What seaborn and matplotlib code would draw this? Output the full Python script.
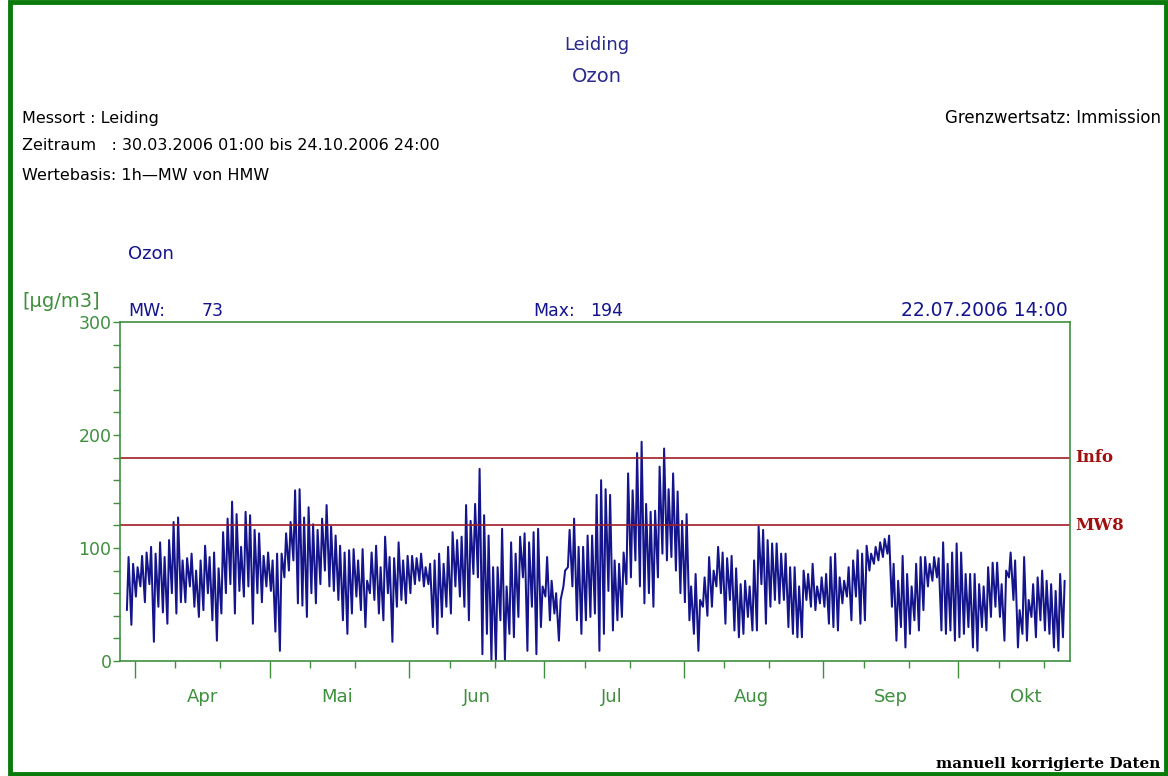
import numpy as np
import pandas as pd
import matplotlib
matplotlib.use('Agg')
import matplotlib.pyplot as plt
import matplotlib.dates as mdates
import matplotlib.transforms as mtransforms
from matplotlib.patches import Rectangle
from matplotlib.ticker import MultipleLocator, NullFormatter
import seaborn as sns

# Ozon Leiding, Tageshoechst- und Tagestiefstwerte, 30.03. - 24.10.2006
first_day = '2006-03-30'
daily_max = [
    92, 86, 83, 93, 96, 101, 95, 105, 92, 107, 123, 127, 89, 91, 95, 80, 89, 102, 92, 96,
    82, 114, 126, 141, 130, 101, 132, 129, 116, 113, 93, 96, 89, 95, 95, 113, 123, 151, 152, 127,
    136, 121, 116, 126, 138, 119, 111, 102, 96, 98, 99, 89, 99, 71, 96, 102, 83, 110, 92, 91,
    105, 89, 93, 93, 91, 95, 83, 86, 89, 95, 86, 101, 114, 107, 110, 138, 124, 139, 170, 129,
    111, 83, 83, 117, 66, 105, 95, 110, 113, 105, 114, 117, 66, 92, 71, 60, 54, 80, 116, 126,
    101, 101, 111, 111, 147, 160, 152, 147, 89, 86, 96, 166, 151, 184, 194, 139, 132, 133, 172, 188,
    152, 166, 150, 124, 130, 66, 77, 54, 74, 92, 80, 101, 96, 91, 93, 82, 68, 71, 66, 89,
    119, 116, 107, 104, 104, 95, 95, 83, 83, 66, 80, 77, 86, 66, 74, 77, 92, 95, 74, 71,
    83, 89, 98, 95, 102, 95, 101, 105, 108, 111, 86, 71, 93, 77, 66, 86, 92, 92, 86, 92,
    91, 105, 86, 96, 104, 96, 77, 77, 77, 68, 66, 83, 87, 87, 68, 80, 96, 89, 45, 92,
    54, 68, 74, 80, 71, 68, 62, 77, 71,
]
daily_min = [
    45, 32, 57, 66, 52, 68, 17, 48, 43, 33, 60, 42, 52, 52, 66, 48, 39, 45, 60, 36,
    18, 42, 60, 68, 42, 62, 57, 66, 33, 60, 52, 66, 62, 26, 9, 74, 80, 89, 51, 49,
    39, 60, 51, 68, 80, 66, 62, 54, 36, 24, 42, 57, 45, 30, 60, 54, 42, 36, 60, 17,
    48, 54, 51, 60, 68, 71, 66, 68, 30, 24, 39, 48, 42, 66, 57, 48, 36, 77, 74, 6,
    24, 1, 1, 36, 1, 24, 21, 39, 74, 9, 48, 6, 30, 57, 36, 42, 18, 66, 83, 66,
    36, 24, 36, 39, 42, 9, 24, 62, 27, 36, 39, 68, 74, 89, 66, 51, 60, 48, 74, 95,
    89, 92, 80, 60, 52, 36, 24, 9, 48, 40, 48, 66, 60, 33, 54, 27, 21, 24, 39, 27,
    27, 68, 33, 48, 54, 51, 54, 30, 24, 21, 21, 54, 48, 45, 51, 48, 33, 30, 27, 51,
    57, 36, 57, 33, 36, 80, 86, 89, 92, 95, 48, 18, 30, 12, 24, 36, 27, 45, 66, 71,
    74, 27, 24, 27, 18, 21, 24, 30, 12, 9, 30, 27, 39, 48, 39, 18, 74, 54, 12, 24,
    18, 39, 21, 36, 27, 24, 12, 9, 21,
]
info_level = 180
mw8_level = 120
month_names = ['Apr', 'Mai', 'Jun', 'Jul', 'Aug', 'Sep', 'Okt']
mw_value = 73
max_value = 194
max_time = '22.07.2006 14:00'

green = '#3f8f3f'
navy = '#14148c'
darkred = '#a01e28'

sns.set_style('white')
plt.rcParams['font.family'] = ['DejaVu Sans']

days = pd.date_range(first_day, periods=len(daily_max), freq='D')
df = pd.concat([
    pd.DataFrame({'time': days + pd.Timedelta(hours=5), 'ozon': daily_min}),
    pd.DataFrame({'time': days + pd.Timedelta(hours=14), 'ozon': daily_max}),
]).sort_values('time').reset_index(drop=True)

fig = plt.figure(figsize=(11.68, 7.76), dpi=100)
ax = fig.add_axes([0.1027, 0.1482, 0.8134, 0.4369])

sns.lineplot(data=df, x='time', y='ozon', ax=ax, color=navy, linewidth=1.45, estimator=None)

# Schwellenwerte
ax.axhline(info_level, color=darkred, lw=1.2)
ax.axhline(mw8_level, color=darkred, lw=1.2)
trans = mtransforms.blended_transform_factory(ax.transAxes, ax.transData)
ax.text(1.006, info_level, 'Info', transform=trans, va='center', ha='left',
        family='DejaVu Serif', fontweight='bold', fontsize=12, color='#a01010')
ax.text(1.006, mw8_level, 'MW8', transform=trans, va='center', ha='left',
        family='DejaVu Serif', fontweight='bold', fontsize=12, color='#a01010')

ax.set_xlim(pd.Timestamp('2006-03-28 16:00'), pd.Timestamp('2006-10-25 18:40'))
ax.set_ylim(0, 300)
ax.set_xlabel('')
ax.set_ylabel('')

for sp in ax.spines.values():
    sp.set_color(green)
    sp.set_linewidth(1.2)

ax.set_yticks([0, 100, 200, 300])
ax.yaxis.set_minor_locator(MultipleLocator(20))
ax.tick_params(axis='y', which='both', direction='out', left=True, length=5, width=1,
               color=green, labelcolor=green, labelsize=12.5, pad=1)

ax.xaxis.set_major_locator(mdates.MonthLocator())
ax.xaxis.set_minor_locator(mdates.DayLocator(bymonthday=[10, 20]))
ax.xaxis.set_major_formatter(NullFormatter())
ax.xaxis.set_minor_formatter(NullFormatter())
ax.tick_params(axis='x', which='major', direction='out', bottom=True, length=12, width=1, color=green)
ax.tick_params(axis='x', which='minor', direction='out', bottom=True, length=5, width=1, color=green)

for i, name in enumerate(month_names):
    xm = mdates.date2num(pd.Timestamp(2006, 4 + i, 16))
    ax.text(xm, -0.106, name, transform=ax.get_xaxis_transform(), ha='center', va='center',
            color=green, fontsize=13)

# Kopfzeilen
def fx(px):
    return px / 1168


def fy(py):
    return 1 - py / 776


fig.text(fx(597), fy(45), 'Leiding', ha='center', va='center', color='#2a2a8a', fontsize=13)
fig.text(fx(597), fy(76), 'Ozon', ha='center', va='center', color='#2a2a8a', fontsize=14)
fig.text(fx(22), fy(118), 'Messort : Leiding', ha='left', va='center', color='black', fontsize=11.5)
fig.text(fx(22), fy(146), 'Zeitraum   : 30.03.2006 01:00 bis 24.10.2006 24:00', ha='left',
         va='center', color='black', fontsize=11.5)
fig.text(fx(22), fy(175), 'Wertebasis: 1h\u2014MW von HMW', ha='left', va='center',
         color='black', fontsize=11.5)
fig.text(fx(1161), fy(118), 'Grenzwertsatz: Immission', ha='right', va='center',
         color='black', fontsize=12)
fig.text(fx(128), fy(254), 'Ozon', ha='left', va='center', color=navy, fontsize=13)
fig.text(fx(22), fy(302), '[\u00b5g/m3]', ha='left', va='center', color=green, fontsize=14)
fig.text(fx(128), fy(311), 'MW:', ha='left', va='center', color=navy, fontsize=12.5)
fig.text(fx(202), fy(311), f'{mw_value}', ha='left', va='center', color=navy, fontsize=12.5)
fig.text(fx(533), fy(311), 'Max:', ha='left', va='center', color=navy, fontsize=12.5)
fig.text(fx(590), fy(311), f'{max_value}', ha='left', va='center', color=navy, fontsize=12.5)
fig.text(fx(1068), fy(311), max_time, ha='right', va='center', color=navy, fontsize=13.5)
fig.text(fx(1160), fy(764), 'manuell korrigierte Daten', ha='right', va='center',
         family='DejaVu Serif', fontweight='bold', color='black', fontsize=11)

# gruener Rahmen
fig.patches.append(Rectangle((fx(10), 0.003), fx(1156), 0.994, transform=fig.transFigure,
                             fill=False, edgecolor='#0a7a0a', linewidth=3.5))

fig.savefig('out.png', dpi=100)
